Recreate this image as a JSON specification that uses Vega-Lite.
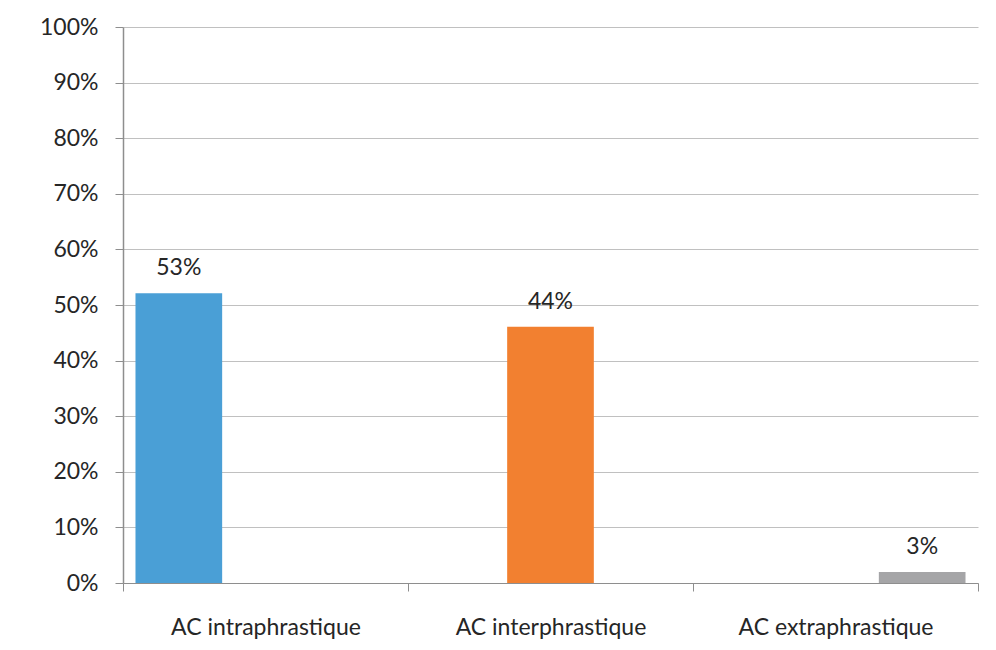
{
  "$schema": "https://vega.github.io/schema/vega-lite/v6.json",
  "width": 855,
  "height": 556,
  "autosize": "none",
  "padding": {"left": 123, "top": 27, "right": 18, "bottom": 67},
  "background": "white",
  "config": {"view": {"stroke": null}, "font": "Lato"},
  "data": {
    "values": [
      {"cat": "AC intraphrastique", "serie": "intra", "value": 0.521, "label": "53%"},
      {"cat": "AC interphrastique", "serie": "inter", "value": 0.461, "label": "44%"},
      {"cat": "AC extraphrastique", "serie": "extra", "value": 0.02, "label": "3%"}
    ]
  },
  "encoding": {
    "x": {
      "field": "cat",
      "type": "nominal",
      "sort": null,
      "scale": {"paddingInner": 0, "paddingOuter": 0},
      "axis": {
        "title": null,
        "labelAngle": 0,
        "labelLimit": 0,
        "tickBand": "extent",
        "domainColor": "#8e8e8e",
        "tickColor": "#8e8e8e",
        "tickSize": 8,
        "labelFontSize": 23,
        "labelColor": "#262626",
        "labelBaseline": "alphabetic",
        "labelPadding": 43,
        "grid": false
      }
    },
    "xOffset": {
      "field": "serie",
      "sort": ["intra", "inter", "extra"],
      "scale": {"paddingInner": 0, "paddingOuter": 0.144}
    },
    "y": {
      "field": "value",
      "type": "quantitative",
      "scale": {"domain": [0, 1]},
      "axis": {
        "title": null,
        "format": ".0%",
        "values": [0, 0.1, 0.2, 0.3, 0.4, 0.5, 0.6, 0.7, 0.8, 0.9, 1],
        "grid": true,
        "gridColor": "#c0c0c0",
        "gridWidth": 1,
        "domainColor": "#8e8e8e",
        "domainWidth": 1.5,
        "tickColor": "#8e8e8e",
        "tickSize": 8,
        "labelFontSize": 23,
        "labelColor": "#262626",
        "labelPadding": 17
      }
    }
  },
  "layer": [
    {
      "mark": {"type": "bar"},
      "encoding": {
        "color": {
          "field": "serie",
          "type": "nominal",
          "scale": {"domain": ["intra", "inter", "extra"], "range": ["#4A9FD6", "#F28030", "#A5A5A7"]},
          "legend": null
        }
      }
    },
    {
      "mark": {"type": "text", "baseline": "alphabetic", "dy": -18, "fontSize": 23, "color": "#262626"},
      "encoding": {"text": {"field": "label"}}
    }
  ]
}
